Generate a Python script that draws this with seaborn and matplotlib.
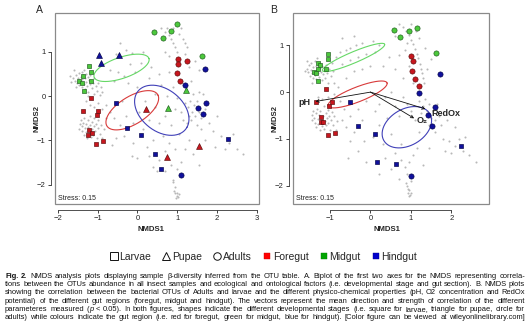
import matplotlib
matplotlib.use('Agg')
import matplotlib.pyplot as plt
from matplotlib.lines import Line2D
from matplotlib.patches import Rectangle
import numpy as np
import pandas as pd
import seaborn as sns

sns.set_theme(style='white')
plt.rcParams['font.family'] = ['Liberation Sans', 'DejaVu Sans']
plt.rcParams['axes.unicode_minus'] = True

# ---------------- DATA ----------------
# Panel A samples (stage: L=Larvae, P=Pupae, A=Adults; gut: F=Foregut, M=Midgut, H=Hindgut)
a_x = [-1.21, -1.17, -1.36, -1.17, -1.48, -1.39, -1.34,
       -1.16, -1.37, -1.00, -1.02, -1.22, -1.13, -1.24, -1.03, -0.86,
       -0.54, -0.26, 0.08, 0.45, 0.58, 2.27,
       -0.96, -0.46, -0.91, 1.21, 0.77, 0.21, 0.75, 1.55,
       0.42, 0.65, 0.85, 0.99, 1.63,
       1.02, 1.01, 1.24, 1.00, 1.06,
       1.69, 1.19, 1.71, 1.51, 1.65, 1.08]
a_y = [0.69, 0.55, 0.46, 0.35, 0.34, 0.30, 0.11,
       -0.04, -0.33, -0.33, -0.43, -0.76, -0.83, -0.88, -1.08, -1.01,
       -0.15, -0.73, -0.88, -1.30, -1.65, -0.96,
       0.94, 0.94, 0.75, 0.13, -0.26, -0.30, -1.37, -1.13,
       1.46, 1.31, 1.48, 1.62, 0.90,
       0.84, 0.72, 0.80, 0.53, 0.34,
       0.62, 0.25, -0.15, -0.27, -0.40, -1.79]
a_stage = ['L'] * 22 + ['P'] * 8 + ['A'] * 16
a_gut = (['M'] * 7 + ['F'] * 9 + ['H'] * 6 + ['H'] * 3 + ['M'] * 2 + ['F'] * 3
         + ['M'] * 5 + ['F'] * 5 + ['H'] * 6)

# Panel B samples
b_x = [-1.06, -1.06, -1.29, -1.25, -1.29, -1.10, -1.40, -1.34, -1.29,
       -1.09, -1.36, -0.95, -1.03, -1.23, -1.22, -1.17, -1.06, -0.88,
       -0.51, -0.32, 0.11, 0.16, 0.63, 2.24,
       0.58, 0.74, 0.96, 1.14, 1.63,
       1.01, 1.04, 1.02, 1.11, 1.19,
       1.71, 1.20, 1.60, 1.43, 1.53, 1.01]
b_y = [0.82, 0.71, 0.62, 0.57, 0.49, 0.49, 0.43, 0.41, 0.23,
       0.06, -0.21, -0.22, -0.29, -0.53, -0.63, -0.63, -0.91, -0.88,
       -0.22, -0.72, -0.90, -1.50, -1.54, -1.16,
       1.33, 1.18, 1.30, 1.38, 0.83,
       0.78, 0.67, 0.46, 0.29, 0.14,
       0.39, -0.02, -0.32, -0.49, -0.72, -1.80]
b_stage = ['L'] * 24 + ['A'] * 16
b_gut = ['M'] * 9 + ['F'] * 9 + ['H'] * 6 + ['M'] * 5 + ['F'] * 5 + ['H'] * 6

# Ellipses (centre x, centre y, semi-axis a, semi-axis b, angle in degrees)
a_ellipses = {'M': (-0.40, 0.64, 0.72, 0.24, 16.7),
              'F': (-0.13, -0.32, 0.73, 0.32, 28.0),
              'H': (0.61, -0.32, 0.74, 0.49, -31.0)}
b_ellipses = {'M': (-0.42, 0.74, 0.82, 0.12, 20.0),
              'F': (-0.32, -0.05, 0.77, 0.16, 18.5),
              'H': (0.90, -0.75, 0.64, 0.40, 22.0)}

# Environmental vectors in panel B
vec_names = ['pH', 'O₂', 'RedOx']
vec_x = [-1.36, 1.08, 1.36]
vec_y = [-0.20, -0.56, -0.36]

# OTU cloud, panel A
a_otu = [(-1.62,0.42),(-1.58,0.35),(-1.55,0.48),(-1.52,0.30),(-1.50,0.40),(-1.48,0.52),(-1.46,0.25),(-1.45,0.36),
 (-1.43,0.44),(-1.42,0.30),(-1.40,0.55),(-1.39,0.20),(-1.38,0.38),(-1.36,0.47),(-1.35,0.28),(-1.33,0.60),(-1.32,0.15),
 (-1.31,0.40),(-1.30,0.33),(-1.28,0.50),(-1.27,0.22),(-1.25,0.44),(-1.24,0.10),(-1.22,0.36),(-1.20,0.27),(-1.18,0.48),
 (-1.15,0.18),(-1.12,0.30),(-1.10,0.05),(-1.08,0.40),(-1.05,0.22),(-1.02,0.12),(-0.98,0.30),(-0.95,0.02),(-0.92,0.20),
 (-0.88,0.10),(-1.70,0.45),(-1.66,0.32),(-1.60,0.58),(-1.54,0.20),
 (-1.42,-0.55),(-1.40,-0.68),(-1.38,-0.78),(-1.36,-0.60),(-1.35,-0.88),(-1.33,-0.50),(-1.32,-0.72),(-1.30,-0.82),
 (-1.28,-0.62),(-1.27,-0.95),(-1.25,-0.55),(-1.24,-0.70),(-1.22,-0.85),(-1.20,-0.65),(-1.18,-0.45),(-1.17,-0.92),
 (-1.15,-0.75),(-1.13,-0.58),(-1.12,-0.88),(-1.10,-0.68),(-1.08,-0.50),(-1.06,-0.80),(-1.04,-0.62),(-1.02,-0.95),
 (-1.00,-0.72),(-0.98,-0.55),(-0.95,-0.85),(-0.92,-0.65),(-0.88,-0.95),(-0.85,-0.75),(-1.46,-0.75),(-1.44,-0.62),
 (-1.30,-0.10),(-1.20,-0.20),(-1.10,-0.25),(-1.00,-0.15),(-0.90,-0.30),(-1.25,0.00),(-0.80,-0.20),(-0.70,-0.35),(-0.80,-0.50),
 (-0.55,0.95),(-0.45,1.20),(-0.30,1.05),(-0.15,0.98),(0.15,1.00),(-0.70,0.60),(-0.50,0.55),(-0.35,0.45),(-0.20,0.72),
 (-0.05,0.55),(0.10,0.75),(-0.60,0.35),(-0.25,0.30),(0.00,0.20),(0.30,0.40),(0.35,0.65),(0.55,0.50),(0.60,0.25),
 (0.80,0.55),(0.75,0.00),(0.90,0.20),(0.45,0.05),(0.20,-0.10),(-0.40,-0.10),(-0.60,-0.50),(-0.45,-0.65),(-0.30,-0.45),
 (-0.10,-0.60),(0.05,-0.35),(0.15,-0.75),(0.30,-0.55),(0.45,-0.25),(0.55,-0.60),(0.70,-0.45),(0.85,-0.65),(0.95,-0.30),
 (1.00,-0.05),(0.65,-0.90),(0.40,-1.00),(0.25,-1.15),(-0.10,-1.05),(-0.35,-0.90),(-0.55,-0.95),(0.80,-1.05),(0.95,-1.20),
 (1.05,-0.85),(0.70,-1.25),(0.55,-1.45),(0.85,-1.55),(1.00,-1.65),(0.70,-1.70),(0.90,-1.90),(1.10,-1.50),(1.20,-1.20),(1.30,-1.00),
 (1.20,-0.15),(1.28,-0.25),(1.33,-0.10),(1.38,-0.35),(1.42,-0.20),(1.45,-0.45),(1.50,-0.10),(1.55,-0.35),(1.30,-0.45),
 (1.25,-0.60),(1.35,-0.55),(1.60,-0.50),(1.40,0.05),(1.55,0.10),(1.65,0.05),(1.70,-0.30),(1.10,-0.35),(1.15,-0.55),
 (1.50,-0.65),(1.60,-0.75),
 (1.90,-0.80),(2.10,-0.90),(2.30,-1.05),(2.50,-1.20),(2.65,-1.30),(2.20,-1.20),(1.95,-1.15),(2.40,-0.85),(1.80,-0.60),(2.00,-0.45),
 (0.60,1.55),(0.70,1.45),(0.78,1.38),(0.85,1.30),(0.90,1.20),(0.95,1.10),(1.00,1.00),(1.05,1.40),(1.15,1.30),(1.20,1.20),
 (1.25,1.10),(0.75,1.55),(0.90,1.55),(1.10,1.55),(0.70,1.00),(0.80,0.90),(1.20,0.95),(1.30,0.65),(1.35,0.35),(1.55,0.60),(1.45,0.80),
 (0.92,-2.15),(0.95,-2.20),(0.98,-2.25),(1.00,-2.18),(1.02,-2.28),(0.97,-2.30),(1.05,-2.22),(0.93,-2.05),(0.90,-1.95),
 (0.00,-1.40),(0.30,-1.35),(-0.15,-1.35),(0.50,-1.70),(0.40,-1.60),(1.40,-1.30),(1.55,-1.55),(1.70,-1.00),(-0.65,-1.10)]

# OTU cloud, panel B
b_otu = [(-1.58,0.50),(-1.55,0.42),(-1.52,0.58),(-1.50,0.35),(-1.48,0.48),(-1.46,0.62),(-1.45,0.40),(-1.43,0.53),
 (-1.42,0.30),(-1.40,0.45),(-1.38,0.66),(-1.37,0.36),(-1.35,0.55),(-1.34,0.28),(-1.32,0.48),(-1.30,0.40),(-1.29,0.60),
 (-1.27,0.33),(-1.25,0.52),(-1.23,0.44),(-1.21,0.25),(-1.19,0.56),(-1.17,0.38),(-1.15,0.47),(-1.12,0.30),(-1.10,0.58),
 (-1.08,0.40),(-1.05,0.20),(-1.02,0.50),(-0.98,0.35),(-0.95,0.62),(-0.92,0.45),(-1.62,0.46),(-1.56,0.66),(-1.44,0.20),(-1.33,0.72),
 (-0.85,0.75),(-0.75,0.85),(-0.60,0.90),(-0.50,0.95),(-0.35,1.00),(-0.20,1.05),(0.05,1.10),(0.20,1.00),(-0.70,0.60),
 (-0.50,0.68),(-0.30,0.75),(-0.10,0.82),(0.10,0.85),(-0.90,0.20),(-0.80,0.10),(-0.60,0.30),(-0.40,0.45),(-0.20,0.50),
 (0.00,0.55),(-0.70,1.15),(-0.40,1.20),
 (-1.42,-0.40),(-1.40,-0.55),(-1.38,-0.65),(-1.36,-0.45),(-1.34,-0.75),(-1.32,-0.35),(-1.30,-0.58),(-1.29,-0.68),
 (-1.27,-0.48),(-1.26,-0.80),(-1.24,-0.40),(-1.22,-0.55),(-1.20,-0.72),(-1.18,-0.50),(-1.16,-0.30),(-1.15,-0.78),
 (-1.13,-0.62),(-1.11,-0.45),(-1.10,-0.70),(-1.08,-0.56),(-1.06,-0.38),(-1.04,-0.66),(-1.02,-0.50),(-1.00,-0.80),
 (-0.98,-0.60),(-0.96,-0.42),(-0.93,-0.70),(-0.90,-0.52),(-0.86,-0.80),(-0.83,-0.62),(-1.45,-0.60),(-1.44,-0.48),
 (-1.30,-0.10),(-1.20,-0.15),(-1.05,-0.10),(-0.90,-0.05),(-0.75,-0.20),(-0.65,-0.35),(-0.70,-0.60),(-0.60,-0.75),
 (-0.50,-0.50),(-0.40,-0.85),(-0.20,-0.60),(-0.30,-0.35),(-0.10,-0.20),(0.10,-0.40),(0.20,-0.25),(0.35,-0.10),
 (0.50,0.00),(0.60,-0.30),(0.40,-0.55),(0.70,-0.50),(0.20,-0.70),(0.05,-0.95),(-0.15,-1.05),(0.30,-1.10),(0.50,-0.90),(0.75,-1.10),
 (0.70,1.45),(0.80,1.40),(0.88,1.30),(0.95,1.22),(1.00,1.12),(1.05,1.02),(1.10,0.92),(1.15,0.82),(1.18,0.72),(1.22,0.60),
 (1.25,0.50),(1.28,0.40),(1.30,0.30),(1.32,0.20),(1.00,1.45),(1.12,1.30),(1.20,1.15),(0.90,1.05),(0.85,0.90),(1.35,0.95),
 (1.50,0.70),(1.40,0.50),(0.60,1.20),(0.70,0.80),(0.60,0.50),(0.80,0.30),(0.45,0.75),(0.30,0.55),(0.95,0.55),(1.05,0.20),
 (1.20,-0.20),(1.30,-0.30),(1.35,-0.15),(1.40,-0.40),(1.45,-0.25),(1.50,-0.55),(1.55,-0.40),(1.60,-0.60),(1.65,-0.25),
 (1.70,-0.50),(1.30,-0.60),(1.25,-0.45),(1.45,-0.70),(1.60,-0.85),(1.75,-0.70),(1.20,-0.85),(1.10,-0.60),(1.00,-0.40),
 (0.90,-0.25),(0.80,-0.10),
 (1.80,-1.00),(1.95,-1.05),(2.10,-1.15),(2.30,-1.25),(2.45,-1.35),(2.60,-1.50),(2.20,-1.00),(2.00,-1.30),(1.85,-1.25),
 (2.35,-0.95),(1.90,-0.60),(2.10,-0.75),
 (0.60,-1.30),(0.75,-1.45),(0.85,-1.60),(0.95,-1.50),(1.05,-1.35),(1.15,-1.20),(0.90,-1.75),(1.00,-1.90),(0.50,-1.65),
 (0.35,-1.40),(0.20,-1.75),(-0.10,-1.50),(-0.30,-1.25),(-0.50,-1.05),(-0.55,-1.40),(1.30,-1.55),(1.45,-1.20),(0.70,-1.85),
 (0.90,-2.00),(0.92,-2.08),(0.94,-2.15),(0.96,-2.10),(0.98,-2.20),(1.00,-2.15),(0.95,-2.22),(0.88,-1.95)]

legend_labels = ['Larvae', 'Pupae', 'Adults', 'Foregut', 'Midgut', 'Hindgut']

caption_lines = [
    "Fig. 2. NMDS analysis plots displaying sample β-diversity inferred from the OTU table. A. Biplot of the first two axes for the NMDS representing correla-",
    "tions between the OTUs abundance in all insect samples and ecological and ontological factors (i.e. developmental stage and gut section). B. NMDS plots",
    "showing the correlation between the bacterial OTUs of Adults and larvae and the different physico-chemical properties (pH, O2 concentration and RedOx",
    "potential) of the different gut regions (foregut, midgut and hindgut). The vectors represent the mean direction and strength of correlation of the different",
    "parameteres measured (p < 0.05). In both figures, shapes indicate the different developmental stages (i.e. square for larvae, triangle for pupae, circle for",
    "adults) while colours indicate the gut region (i.e. red for foregut, green for midgut, blue for hindgut). [Color figure can be viewed at wileyonlinelibrary.com]",
]

# ---------------- STYLE ----------------
FILL = {'F': '#c8161e', 'M': '#4cc83c', 'H': '#10109c'}
EDGE = {'F': '#5a0a0a', 'M': '#1e5a1e', 'H': '#000046'}
ELL_COL = {'F': '#d83a3a', 'M': '#66d866', 'H': '#4040b8'}
MARK = {'L': ('s', 11), 'P': ('^', 18), 'A': ('o', 14)}

W, H = 532, 333
fig = plt.figure(figsize=(W / 100, H / 100), dpi=100)
axA = fig.add_axes([55 / W, 1 - 204 / H, 204 / W, 191 / H])
axB = fig.add_axes([293.3 / W, 1 - 204 / H, 196 / W, 191 / H])


def draw_panel(ax, otu, sx, sy, sst, sgut, ells, xlim, ylim, xticks, yticks):
    odf = pd.DataFrame(otu, columns=['x', 'y'])
    sns.scatterplot(data=odf, x='x', y='y', ax=ax, color='#b8b8b8', s=2.2,
                    linewidth=0, legend=False, zorder=1)
    t = np.linspace(0, 2 * np.pi, 240)
    for g in ['M', 'F', 'H']:
        cx, cy, a, b, ang = ells[g]
        th = np.deg2rad(ang)
        ex = cx + a * np.cos(t) * np.cos(th) - b * np.sin(t) * np.sin(th)
        ey = cy + a * np.cos(t) * np.sin(th) + b * np.sin(t) * np.cos(th)
        ax.plot(ex, ey, color=ELL_COL[g], lw=0.8, zorder=2)
    df = pd.DataFrame({'x': sx, 'y': sy, 'stage': sst, 'gut': sgut})
    for g in ['F', 'M', 'H']:
        for st in ['L', 'P', 'A']:
            sub = df[(df.gut == g) & (df.stage == st)]
            if len(sub) == 0:
                continue
            mk, s = MARK[st]
            sns.scatterplot(data=sub, x='x', y='y', ax=ax, marker=mk, s=s,
                            color=FILL[g], edgecolor=EDGE[g], linewidth=0.45,
                            legend=False, zorder=4)
    ax.set_xlim(xlim)
    ax.set_ylim(ylim)
    ax.set_xticks(xticks)
    ax.set_yticks(yticks)
    ax.set_facecolor('white')
    ax.spines['top'].set_visible(False)
    ax.spines['right'].set_visible(False)
    for sp in ['left', 'bottom']:
        ax.spines[sp].set_color('#333333')
        ax.spines[sp].set_linewidth(0.6)
    ax.spines['left'].set_position(('outward', 3.2))
    ax.spines['left'].set_bounds(yticks[0], yticks[-1])
    ax.spines['bottom'].set_position(('outward', 4.3))
    ax.spines['bottom'].set_bounds(xticks[0], xticks[-1])
    ax.add_patch(Rectangle((0, 0), 1, 1, transform=ax.transAxes, fill=False,
                           edgecolor='#8a8a8a', lw=0.9, clip_on=False, zorder=6))
    ax.tick_params(axis='both', which='major', direction='out', length=2.2,
                   width=0.6, pad=1.5, labelsize=5.5, colors='#222222',
                   left=True, bottom=True)
    ax.set_xlabel('NMDS1', fontsize=5.6, fontweight='bold')
    ax.set_ylabel('NMDS2', fontsize=5.6, fontweight='bold')
    ax.text(0.016, 0.012, 'Stress: 0.15', transform=ax.transAxes,
            fontsize=5.0, ha='left', va='bottom', color='#222222', zorder=7)


draw_panel(axA, a_otu, a_x, a_y, a_stage, a_gut, a_ellipses,
           (-2.07, 3.05), (-2.44, 1.88), [-2, -1, 0, 1, 2, 3], [-2, -1, 0, 1])
draw_panel(axB, b_otu, b_x, b_y, b_stage, b_gut, b_ellipses,
           (-1.91, 2.94), (-2.39, 1.69), [-1, 0, 1, 2], [-2, -1, 0, 1])

axA.xaxis.set_label_coords(0.47, -0.115)
axB.xaxis.set_label_coords(0.48, -0.115)
axA.yaxis.set_label_coords(-0.069, 0.45)
axB.yaxis.set_label_coords(-0.078, 0.45)

# vectors in panel B
for name, vx, vy in zip(vec_names, vec_x, vec_y):
    axB.annotate('', xy=(vx, vy), xytext=(0, 0),
                 arrowprops=dict(arrowstyle='->', color='#111111', lw=0.6,
                                 mutation_scale=5, shrinkA=0, shrinkB=0),
                 zorder=5)
axB.text(vec_x[0] - 0.12, vec_y[0] - 0.03, vec_names[0], ha='right', va='center',
         fontsize=6.5, fontweight='bold', zorder=7)
axB.text(vec_x[1] + 0.05, vec_y[1] - 0.05, vec_names[1], ha='left', va='center',
         fontsize=6.5, fontweight='bold', zorder=7)
axB.text(vec_x[2] + 0.14, vec_y[2] - 0.09, vec_names[2], ha='left', va='center',
         fontsize=6.5, fontweight='bold', zorder=7)

fig.text(39 / W, 1 - 10 / H, 'A', ha='center', va='center', fontsize=7.5)
fig.text(274 / W, 1 - 10 / H, 'B', ha='center', va='center', fontsize=7.5)

# legend
handles = [
    Line2D([], [], marker='s', ls='', mfc='white', mec='#111111', mew=0.7, ms=5.2),
    Line2D([], [], marker='^', ls='', mfc='white', mec='#111111', mew=0.7, ms=6.2),
    Line2D([], [], marker='o', ls='', mfc='white', mec='#111111', mew=0.7, ms=5.4),
    Line2D([], [], marker='s', ls='', mfc='#ff0000', mec='#cc0000', mew=0.3, ms=5.0),
    Line2D([], [], marker='s', ls='', mfc='#00a400', mec='#008000', mew=0.3, ms=5.0),
    Line2D([], [], marker='s', ls='', mfc='#0000cc', mec='#000090', mew=0.3, ms=5.0),
]
fig.legend(handles, legend_labels, loc='center', bbox_to_anchor=(0.495, 1 - 257 / H),
           ncol=6, frameon=False, fontsize=7.5, handlelength=0.8,
           handletextpad=0.15, columnspacing=1.05, borderpad=0, borderaxespad=0)

# caption, justified
renderer = fig.canvas.get_renderer()
SPECIAL = {'Fig.': [('Fig.', {'weight': 'bold'})],
           '2.': [('2.', {'weight': 'bold'})],
           '(p': [('(', {}), ('p', {'style': 'italic'})]}


def seg_width(txt, fs, style):
    tt = fig.text(0, 0, txt, fontsize=fs, **style)
    w = tt.get_window_extent(renderer).width
    tt.remove()
    return w


def word_segs(line_idx, w):
    if w in SPECIAL and (w != '2.' or line_idx == 0):
        return SPECIAL[w]
    return [(w, {})]


x0, x1 = 5.0, 525.0
fs0 = 5.0
sp0 = seg_width('a a', fs0, {}) - seg_width('aa', fs0, {})
nat = []
for i, ln in enumerate(caption_lines):
    words = ln.split(' ')
    tot = sum(seg_width(s, fs0, st) for w in words for s, st in word_segs(i, w))
    nat.append(tot + sp0 * (len(words) - 1))
fs = fs0 * 0.995 * (x1 - x0) / max(nat)

for i, ln in enumerate(caption_lines):
    words = ln.split(' ')
    segs = [word_segs(i, w) for w in words]
    widths = [[seg_width(s, fs, st) for s, st in sg] for sg in segs]
    total = sum(sum(w) for w in widths)
    gap = (x1 - x0 - total) / (len(words) - 1)
    yb = 277.5 + 8.35 * i
    x = x0
    for sg, ws in zip(segs, widths):
        for (s, st), wv in zip(sg, ws):
            fig.text(x / W, 1 - yb / H, s, fontsize=fs, ha='left', va='baseline',
                     color='#111111', **st)
            x += wv
        x += gap

fig.savefig('out.png', dpi=100, facecolor='white')
